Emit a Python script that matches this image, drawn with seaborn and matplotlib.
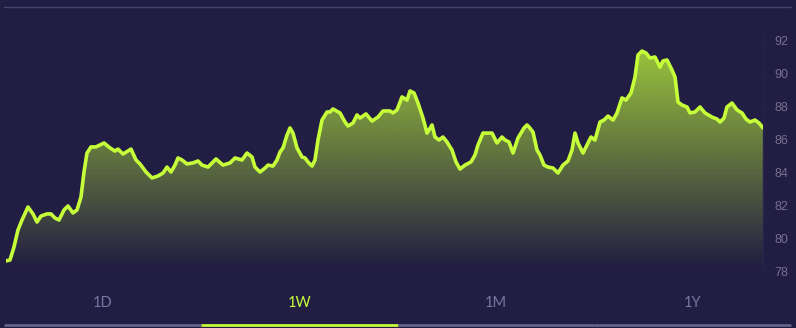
import numpy as np
import pandas as pd
import matplotlib
matplotlib.use("Agg")
import matplotlib.pyplot as plt
from matplotlib.lines import Line2D
import seaborn as sns

# ---- data ----
t = [0, 4, 8, 12, 16, 22, 27, 31, 35, 41, 45, 49, 53, 58, 62, 67, 71, 75, 78, 81,
     85, 90, 94, 98, 104, 109, 112, 117, 125, 130, 134, 140, 146, 152, 157, 161, 165, 169, 172, 176,
     181, 187, 192, 196, 202, 210, 217, 224, 229, 236, 241, 246, 249, 254, 259, 262, 267, 271, 274, 277,
     281, 284, 287, 291, 296, 299, 302, 306, 309, 312, 316, 321, 324, 327, 334, 339, 342, 347, 351, 354,
     360, 366, 372, 377, 384, 387, 391, 396, 401, 404, 408, 412, 417, 421, 423, 426, 429, 433, 437, 441,
     446, 450, 454, 459, 465, 469, 472, 477, 481, 486, 491, 496, 499, 503, 507, 512, 518, 521, 523, 527,
     531, 534, 538, 542, 547, 552, 557, 562, 566, 569, 572, 577, 582, 585, 589, 594, 598, 602, 607, 611,
     616, 620, 625, 629, 632, 636, 640, 644, 649, 654, 657, 661, 666, 669, 672, 676, 681, 684, 689, 694,
     699, 706, 711, 714, 718, 721, 726, 731, 736, 740, 744, 749, 753, 757]
price = [78.67, 78.73, 79.52, 80.55, 81.15, 81.94, 81.52, 81.03, 81.39, 81.52, 81.52, 81.27, 81.15, 81.76, 82.00, 81.58, 81.76, 82.55, 84.06, 85.21,
         85.58, 85.58, 85.70, 85.82, 85.52, 85.33, 85.45, 85.15, 85.45, 84.79, 84.55, 84.06, 83.70, 83.82, 84.00, 84.36, 84.06, 84.48, 84.91, 84.79,
         84.55, 84.61, 84.73, 84.48, 84.36, 84.85, 84.48, 84.61, 84.91, 84.79, 85.21, 84.97, 84.36, 84.06, 84.30, 84.48, 84.42, 84.79, 85.27, 85.52,
         86.30, 86.73, 86.42, 85.52, 84.97, 84.91, 84.67, 84.42, 84.79, 86.00, 87.21, 87.70, 87.70, 87.88, 87.64, 87.09, 86.85, 87.03, 87.52, 87.33,
         87.58, 87.15, 87.39, 87.76, 87.76, 87.64, 87.82, 88.61, 88.42, 88.97, 88.85, 88.24, 87.33, 86.42, 86.61, 86.91, 86.18, 86.00, 86.18, 85.88,
         85.39, 84.67, 84.24, 84.48, 84.67, 85.09, 85.70, 86.42, 86.42, 86.42, 85.82, 86.18, 86.00, 85.88, 85.21, 86.12, 86.73, 86.91, 86.79, 86.48,
         85.39, 85.09, 84.48, 84.36, 84.30, 84.00, 84.48, 84.73, 85.39, 86.42, 85.82, 85.21, 85.82, 86.18, 86.00, 87.09, 87.21, 87.45, 87.21, 87.64,
         88.55, 88.42, 88.85, 89.82, 91.15, 91.39, 91.27, 90.97, 91.03, 90.42, 90.79, 90.85, 90.24, 89.82, 88.30, 88.12, 88.00, 87.64, 87.70, 88.00,
         87.64, 87.39, 87.27, 87.09, 87.33, 88.00, 88.24, 87.82, 87.64, 87.27, 87.09, 87.21, 87.03, 86.73]
y_ticks = [78, 80, 82, 84, 86, 88, 90, 92]
tabs = ["1D", "1W", "1M", "1Y"]
active_tab = "1W"

# ---- style ----
BG = "#221d42"
LIME = "#c6ff3a"
TICK = "#76718f"
TAB = "#7a76a0"

sns.set_style("dark")
plt.rcParams["font.family"] = ["Liberation Sans", "DejaVu Sans"]

W, H = 796, 328
fig = plt.figure(figsize=(W / 100, H / 100), dpi=100, facecolor=BG)

ax_l, ax_r, ax_t, ax_b = 6, 763, 30, 272
ax = fig.add_axes([ax_l / W, 1 - ax_b / H, (ax_r - ax_l) / W, (ax_b - ax_t) / H])
ax.set_facecolor(BG)

df = pd.DataFrame({"t": t, "price": price})
y0, y1 = 78.0, 92.0 + 11 / 16.5
ax.set_ylim(y0, y1)
ax.set_xlim(min(t), max(t))

# gradient fill under the line
poly = ax.fill_between(df["t"], df["price"], y0, color="none", lw=0)
n = 256
ys = np.linspace(y0, y1, n)
alpha = np.clip(0.8 * (ys - 78.2) / (y1 - 78.2), 0, 1)
rgba = np.zeros((n, 1, 4))
rgba[..., 0] = 198 / 255
rgba[..., 1] = 255 / 255
rgba[..., 2] = 58 / 255
rgba[:, 0, 3] = alpha
img = ax.imshow(rgba, aspect="auto", origin="lower",
                extent=[min(t), max(t), y0, y1], zorder=1, interpolation="bilinear")
img.set_clip_path(poly.get_paths()[0], transform=ax.transData)

sns.lineplot(data=df, x="t", y="price", ax=ax, color=LIME, linewidth=2.6,
             solid_joinstyle="round", solid_capstyle="round", zorder=3)

# axes styling
ax.set_xlabel("")
ax.set_ylabel("")
ax.set_xticks([])
ax.set_yticks(y_ticks)
ax.set_yticklabels([str(v) for v in y_ticks])
ax.yaxis.tick_right()
ax.tick_params(axis="y", length=0, pad=8.5, labelsize=9, labelcolor=TICK)
ax.grid(axis="y", color="#25204a", linewidth=0.8)
ax.grid(axis="x", visible=False)
for s in ["top", "left", "bottom"]:
    ax.spines[s].set_visible(False)
ax.spines["right"].set_color("#29244d")
ax.spines["right"].set_linewidth(1)

# top separator line
fig.add_artist(Line2D([4 / W, 791 / W], [1 - 6.5 / H, 1 - 6.5 / H], color="#4a4570", lw=1))

# tabs
tab_w = (791 - 4) / len(tabs)
for i, name in enumerate(tabs):
    cx = 4 + tab_w * (i + 0.5)
    col = LIME if name == active_tab else TAB
    fig.text(cx / W, 1 - 303 / H, name, ha="center", va="center", color=col,
             fontsize=10.5, family=["Lato", "DejaVu Sans"])
    xs = [(4 + tab_w * i) / W, (4 + tab_w * (i + 1)) / W]
    fig.add_artist(Line2D(xs, [1 - 324.5 / H] * 2, color=(LIME if name == active_tab else "#6c6890"),
                          lw=2 if name == active_tab else 1.8, solid_capstyle="butt"))

fig.savefig("out.png", dpi=100, facecolor=BG)
